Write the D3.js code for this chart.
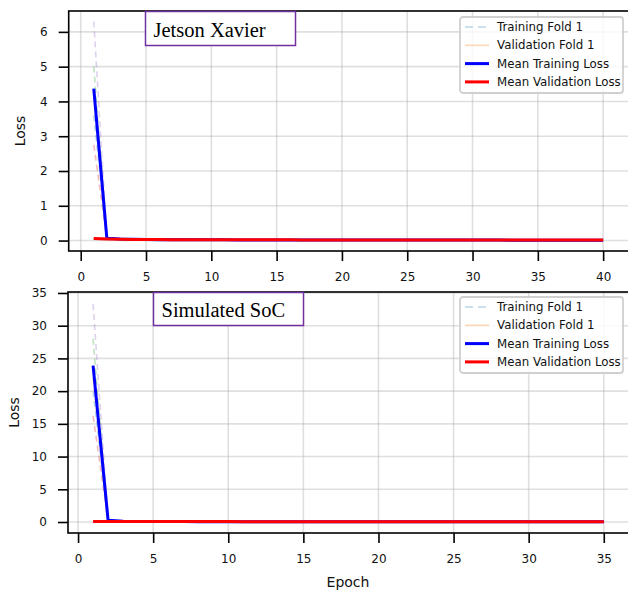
<!DOCTYPE html>
<html>
<head>
<meta charset="utf-8">
<script src="https://cdn.jsdelivr.net/npm/d3@7"></script>
<style>
  body { margin: 0; background: #fff; }
  svg { display: block; }
</style>
</head>
<body>
<svg id="chart" width="628" height="593"></svg>
<script>
// Jetson Xavier (top panel)
const meanTrainA = [4.37, 0.07, 0.045, 0.035, 0.03, 0.027, 0.025, 0.023, 0.022, 0.021,
  0.02, 0.019, 0.019, 0.018, 0.018, 0.017, 0.017, 0.016, 0.016, 0.016,
  0.015, 0.015, 0.015, 0.014, 0.014, 0.014, 0.014, 0.013, 0.013, 0.013,
  0.013, 0.013, 0.012, 0.012, 0.012, 0.012, 0.012, 0.012, 0.011, 0.011];
const meanValA = [0.06, 0.045, 0.038, 0.034, 0.031, 0.029, 0.027, 0.026, 0.025, 0.024,
  0.023, 0.022, 0.021, 0.021, 0.02, 0.02, 0.019, 0.019, 0.018, 0.018,
  0.018, 0.017, 0.017, 0.017, 0.016, 0.016, 0.016, 0.016, 0.015, 0.015,
  0.015, 0.015, 0.014, 0.014, 0.014, 0.014, 0.014, 0.013, 0.013, 0.013];
const foldTrainA = [
  [3.6, 0.08, 0.05, 0.04, 0.034, 0.03, 0.028, 0.026],
  [4.2, 0.07, 0.046, 0.036, 0.031, 0.028, 0.026, 0.024],
  [5.0, 0.07, 0.044, 0.034, 0.03, 0.027, 0.025, 0.023],
  [2.75, 0.06, 0.042, 0.033, 0.029, 0.026, 0.024, 0.022],
  [6.3, 0.07, 0.043, 0.035, 0.03, 0.027, 0.025, 0.023]
];
const foldValA = [
  [0.07, 0.05, 0.04, 0.035, 0.032, 0.03, 0.028, 0.027],
  [0.06, 0.045, 0.038, 0.034, 0.031, 0.029, 0.027, 0.026],
  [0.055, 0.044, 0.037, 0.033, 0.03, 0.028, 0.026, 0.025],
  [0.06, 0.043, 0.036, 0.033, 0.03, 0.028, 0.027, 0.026],
  [0.058, 0.045, 0.038, 0.034, 0.031, 0.029, 0.027, 0.026]
];

// Simulated SoC (bottom panel)
const meanTrainB = [23.9, 0.25, 0.12, 0.09, 0.075, 0.065, 0.06, 0.055, 0.05, 0.048,
  0.046, 0.044, 0.042, 0.04, 0.039, 0.038, 0.037, 0.036, 0.035, 0.034,
  0.034, 0.033, 0.033, 0.032, 0.032, 0.031, 0.031, 0.03, 0.03, 0.03,
  0.029, 0.029, 0.029, 0.028, 0.028];
const meanValB = [0.09, 0.08, 0.075, 0.07, 0.068, 0.066, 0.064, 0.062, 0.06, 0.059,
  0.058, 0.057, 0.056, 0.055, 0.054, 0.053, 0.053, 0.052, 0.052, 0.051,
  0.051, 0.05, 0.05, 0.05, 0.049, 0.049, 0.049, 0.048, 0.048, 0.048,
  0.047, 0.047, 0.047, 0.047, 0.046];
const foldTrainB = [
  [20.0, 0.3, 0.13, 0.1, 0.08, 0.07, 0.065, 0.06],
  [22.0, 0.26, 0.12, 0.09, 0.075, 0.066, 0.06, 0.055],
  [28.0, 0.24, 0.12, 0.09, 0.074, 0.064, 0.059, 0.054],
  [16.2, 0.22, 0.11, 0.085, 0.07, 0.062, 0.057, 0.052],
  [33.3, 0.23, 0.12, 0.09, 0.076, 0.066, 0.06, 0.055]
];
const foldValB = [
  [0.1, 0.085, 0.078, 0.072, 0.069, 0.067, 0.065, 0.063],
  [0.09, 0.08, 0.075, 0.07, 0.068, 0.066, 0.064, 0.062],
  [0.085, 0.078, 0.073, 0.069, 0.067, 0.065, 0.063, 0.061],
  [0.09, 0.08, 0.074, 0.07, 0.067, 0.065, 0.063, 0.062],
  [0.088, 0.079, 0.074, 0.07, 0.068, 0.066, 0.064, 0.062]
];

const foldColors = ["#1f77b4", "#ff7f0e", "#2ca02c", "#d62728", "#9467bd"];
const legendLabels = ["Training Fold 1", "Validation Fold 1", "Mean Training Loss", "Mean Validation Loss"];

const xTicksA = [0, 5, 10, 15, 20, 25, 30, 35, 40];
const yTicksA = [0, 1, 2, 3, 4, 5, 6];
const xTicksB = [0, 5, 10, 15, 20, 25, 30, 35];
const yTicksB = [0, 5, 10, 15, 20, 25, 30, 35];

const svg = d3.select("#chart");
const font = "'DejaVu Sans', sans-serif";

function drawPanel(opt) {
  const { left, right, top, bottom } = opt.box;
  const x = d3.scaleLinear().domain(opt.xDomain).range([left, right]);
  const y = d3.scaleLinear().domain(opt.yDomain).range([bottom, top]);
  const g = svg.append("g");

  // grid
  g.append("g").selectAll("line").data(opt.xTicks).join("line")
    .attr("x1", d => x(d)).attr("x2", d => x(d))
    .attr("y1", top).attr("y2", bottom)
    .attr("stroke", "#b0b0b0").attr("stroke-opacity", 0.4).attr("stroke-width", 1.6);
  g.append("g").selectAll("line").data(opt.yTicks).join("line")
    .attr("x1", left).attr("x2", right)
    .attr("y1", d => y(d)).attr("y2", d => y(d))
    .attr("stroke", "#b0b0b0").attr("stroke-opacity", 0.4).attr("stroke-width", 1.6);

  const line = d3.line().x((d, i) => x(i + 1)).y(d => y(d));

  // fold curves
  opt.foldTrain.forEach((f, i) => {
    g.append("path").datum(f).attr("d", line)
      .attr("fill", "none").attr("stroke", foldColors[i])
      .attr("stroke-opacity", 0.3).attr("stroke-width", 1.6)
      .attr("stroke-dasharray", "6,4");
  });
  opt.foldVal.forEach((f, i) => {
    g.append("path").datum(f).attr("d", line)
      .attr("fill", "none").attr("stroke", foldColors[i])
      .attr("stroke-opacity", 0.3).attr("stroke-width", 1.6);
  });

  g.append("path").datum(opt.meanTrain).attr("d", line)
    .attr("fill", "none").attr("stroke", "#0000ff").attr("stroke-width", 3);
  g.append("path").datum(opt.meanVal).attr("d", line)
    .attr("fill", "none").attr("stroke", "#ff0000").attr("stroke-width", 3);

  // axes
  const ax = g.append("g").attr("transform", `translate(0,${bottom})`)
    .call(d3.axisBottom(x).tickValues(opt.xTicks).tickFormat(d3.format("d"))
      .tickSize(10).tickPadding(11).tickSizeOuter(0));
  const ay = g.append("g").attr("transform", `translate(${left},0)`)
    .call(d3.axisLeft(y).tickValues(opt.yTicks).tickFormat(d3.format("d"))
      .tickSize(10).tickPadding(11).tickSizeOuter(0));
  [ax, ay].forEach(a => {
    a.select(".domain").remove();
    a.selectAll(".tick line").attr("stroke", "#000").attr("stroke-width", 1.6);
    a.selectAll(".tick text").attr("font-family", font).attr("font-size", 12).attr("fill", "#111");
  });

  // spines
  g.append("rect").attr("x", left).attr("y", top)
    .attr("width", right - left).attr("height", bottom - top)
    .attr("fill", "none").attr("stroke", "#000").attr("stroke-width", 1.6);

  // y label
  g.append("text")
    .attr("transform", `translate(${opt.yLabelX},${(top + bottom) / 2}) rotate(-90)`)
    .attr("text-anchor", "middle").attr("dominant-baseline", "middle")
    .attr("font-family", font).attr("font-size", 14).attr("fill", "#111")
    .text("Loss");

  // title box
  const tb = opt.titleBox;
  g.append("rect").attr("x", tb.x).attr("y", tb.y).attr("width", tb.w).attr("height", tb.h)
    .attr("fill", "#fff").attr("stroke", "#7030a0").attr("stroke-width", 1.5);
  g.append("text").attr("x", tb.x + 8).attr("y", tb.y + tb.h - 9)
    .attr("font-family", "'Liberation Serif', 'Times New Roman', serif")
    .attr("font-size", 20.5).attr("fill", "#000")
    .text(opt.title);

  // legend
  const lg = g.append("g").attr("transform", `translate(${opt.legend.x},${opt.legend.y})`);
  lg.append("rect").attr("x", 0).attr("y", 0).attr("width", 163).attr("height", 76)
    .attr("rx", 3).attr("fill", "#fff").attr("fill-opacity", 0.8)
    .attr("stroke", "#d0d0d0").attr("stroke-width", 1.8);
  const styles = [
    { c: foldColors[0], o: 0.3, w: 1.6, dash: "8,5" },
    { c: foldColors[1], o: 0.3, w: 1.6, dash: null },
    { c: "#0000ff", o: 1, w: 3, dash: null },
    { c: "#ff0000", o: 1, w: 3, dash: null }
  ];
  legendLabels.forEach((lab, i) => {
    const yy = 10 + i * 18.3;
    lg.append("line").attr("x1", 5).attr("x2", 29).attr("y1", yy).attr("y2", yy)
      .attr("stroke", styles[i].c).attr("stroke-opacity", styles[i].o)
      .attr("stroke-width", styles[i].w).attr("stroke-dasharray", styles[i].dash);
    lg.append("text").attr("x", 37).attr("y", yy).attr("dy", "0.35em")
      .attr("font-family", font).attr("font-size", 11.8).attr("fill", "#111")
      .text(lab);
  });
}

drawPanel({
  box: { left: 68.7, right: 629, top: 11, bottom: 251 },
  xDomain: [-0.92, 41.98], yDomain: [-0.3, 6.6],
  xTicks: xTicksA, yTicks: yTicksA,
  meanTrain: meanTrainA, meanVal: meanValA,
  foldTrain: foldTrainA, foldVal: foldValA,
  yLabelX: 21,
  title: "Jetson Xavier",
  titleBox: { x: 145.5, y: 11.5, w: 150, h: 34 },
  legend: { x: 460, y: 17 }
});

drawPanel({
  box: { left: 68, right: 629, top: 292, bottom: 533 },
  xDomain: [-0.67, 36.68], yDomain: [-1.68, 35.15],
  xTicks: xTicksB, yTicks: yTicksB,
  meanTrain: meanTrainB, meanVal: meanValB,
  foldTrain: foldTrainB, foldVal: foldValB,
  yLabelX: 15,
  title: "Simulated SoC",
  titleBox: { x: 153.5, y: 292.5, w: 150, h: 33 },
  legend: { x: 460, y: 297 }
});

svg.append("text").attr("x", 348).attr("y", 583)
  .attr("text-anchor", "middle").attr("dominant-baseline", "middle")
  .attr("font-family", font).attr("font-size", 14).attr("fill", "#111")
  .text("Epoch");
</script>
</body>
</html>
